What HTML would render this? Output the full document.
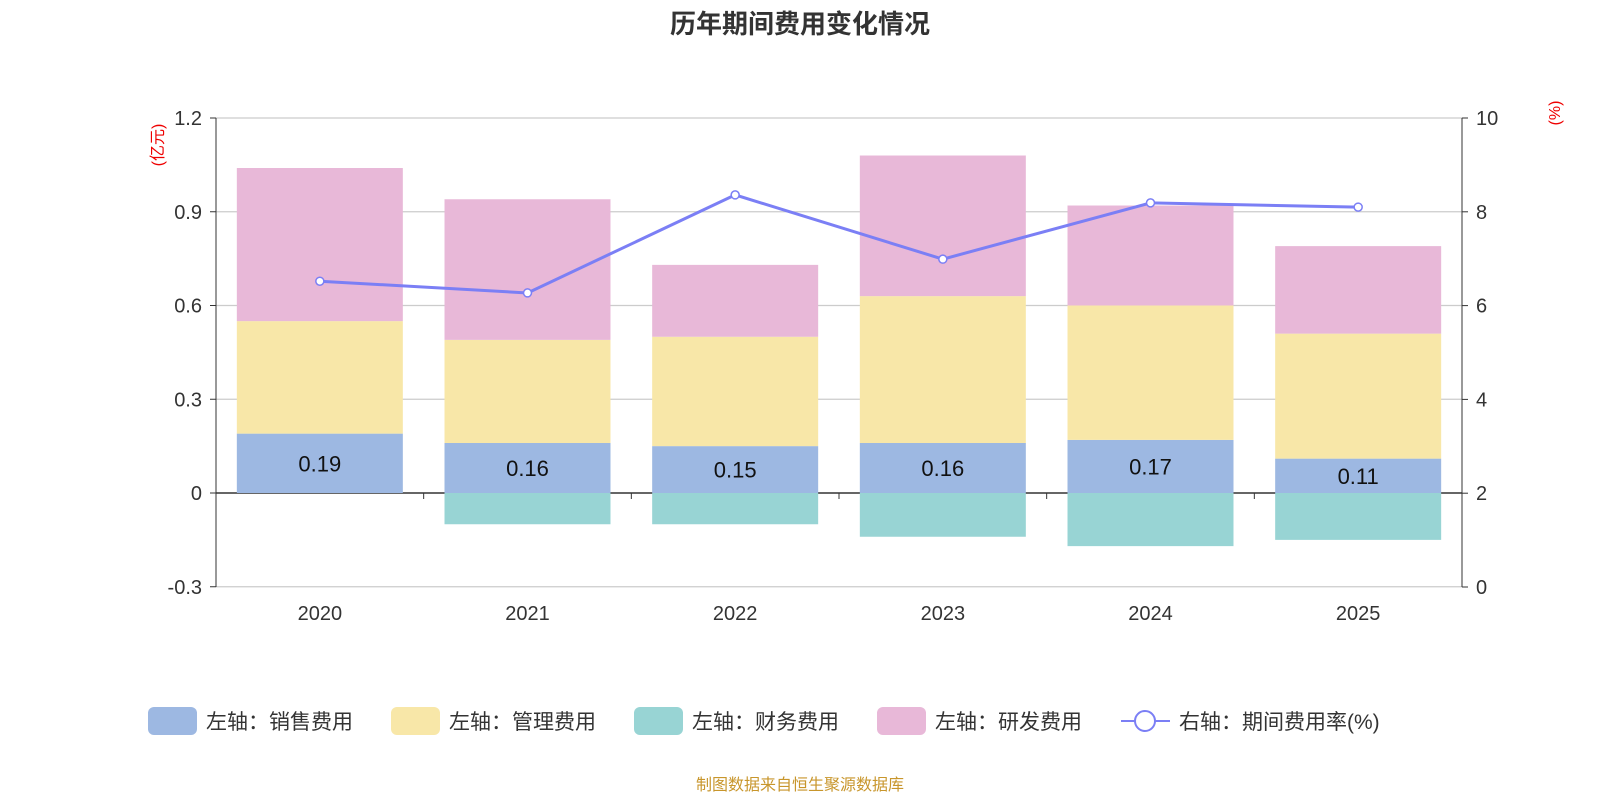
<!DOCTYPE html>
<html><head><meta charset="utf-8">
<style>
body{margin:0;background:#fff;font-family:"Liberation Sans","Noto Sans CJK SC",sans-serif;}
svg text{font-family:"Liberation Sans","Noto Sans CJK SC",sans-serif;}
</style></head>
<body>
<svg id="chart" width="1600" height="800" xmlns="http://www.w3.org/2000/svg">
<text x="800" y="33" text-anchor="middle" font-size="26" font-weight="bold" fill="#333">历年期间费用变化情况</text>
<text x="163" y="145" font-size="16" fill="#e00" transform="rotate(-90 163 145)" text-anchor="middle">(亿元)</text>
<text x="1560" y="113" font-size="16" fill="#e00" transform="rotate(-90 1560 113)" text-anchor="middle">(%)</text>
<g id="grid"></g><g id="bars"></g><g id="axes"></g><g id="line"></g>
<g id="legend"></g>
<text x="800" y="790" text-anchor="middle" font-size="16" fill="#c8962c">制图数据来自恒生聚源数据库</text>
</svg>
<script>
const categories=["2020","2021","2022","2023","2024","2025"];
const sales=[0.19,0.16,0.15,0.16,0.17,0.11];
const mgmt=[0.36,0.33,0.35,0.47,0.43,0.40];
const finance=[0,-0.10,-0.10,-0.14,-0.17,-0.15];
const research=[0.49,0.45,0.23,0.45,0.32,0.28];
const rate=[6.52,6.27,8.36,6.99,8.19,8.10];
const leftTicks=[-0.3,0,0.3,0.6,0.9,1.2];
const leftTickLabels=["-0.3","0","0.3","0.6","0.9","1.2"];
const rightTicks=[0,2,4,6,8,10];

const NS="http://www.w3.org/2000/svg";
const L=216,R=1462,T=118,B=587;
const yL=v=>493-(v)*312.5;
const yR=v=>B-v*(B-T)/10;
const band=(R-L)/categories.length;
const xC=i=>L+band*(i+0.5);
const bw=166;
function mk(tag,at,parent){const e=document.createElementNS(NS,tag);for(const k in at)e.setAttribute(k,at[k]);document.getElementById(parent).appendChild(e);return e;}
leftTicks.forEach((t,i)=>{
  const g=mk('line',{x1:L,x2:R,y1:yL(t),y2:yL(t),stroke:t===0?'#333':'#ccc','stroke-width':t===0?1.5:1.2},'grid');
  
  
  const tx=mk('text',{x:L-14,y:yL(t)+7,'text-anchor':'end','font-size':20,fill:'#333'},'axes');
  tx.textContent=leftTickLabels[i];
  
  
  mk('line',{x1:L-6,x2:L,y1:yL(t),y2:yL(t),stroke:'#333'},'axes');
});
rightTicks.forEach(t=>{
  const tx=mk('text',{x:R+14,y:yR(t)+7,'font-size':20,fill:'#333'},'axes');
  tx.textContent=t;
  
  
  mk('line',{x1:R,x2:R+6,y1:yR(t),y2:yR(t),stroke:'#333'},'axes');
});
mk('line',{x1:L,x2:L,y1:T,y2:B,stroke:'#333'},'axes');
mk('line',{x1:R,x2:R,y1:T,y2:B,stroke:'#333'},'axes');
const colors={sales:'#9db8e2',mgmt:'#f8e7a8',finance:'#98d4d4',research:'#e8b8d8'};
categories.forEach((c,i)=>{
  const x=xC(i)-bw/2;
  const segs=[['sales',0,sales[i]],['mgmt',sales[i],sales[i]+mgmt[i]],['research',sales[i]+mgmt[i],sales[i]+mgmt[i]+research[i]],['finance',finance[i],0]];
  segs.forEach(s=>{
    const r=mk('rect',{x:x,y:yL(s[2]),width:bw,height:Math.max(0,yL(s[1])-yL(s[2])),fill:colors[s[0]]},'bars');
    
    
  });
  const lb=mk('text',{x:xC(i),y:(yL(0)+yL(sales[i]))/2+8,'text-anchor':'middle','font-size':22,fill:'#111'},'bars');
  lb.textContent=sales[i].toFixed(2);
  
  
  const xl=mk('text',{x:xC(i),y:B+33,'text-anchor':'middle','font-size':20,fill:'#333'},'axes');
  xl.textContent=c;
  
  
  mk('line',{x1:L+band*i,x2:L+band*i,y1:493,y2:499,stroke:'#333'},'axes');
});
const pl=mk('polyline',{points:rate.map((v,i)=>xC(i)+','+yR(v)).join(' '),fill:'none',stroke:'#7b7ff5','stroke-width':3},'line');


rate.forEach((v,i)=>{
  const p=mk('circle',{cx:xC(i),cy:yR(v),r:4,fill:'#fff',stroke:'#7b7ff5','stroke-width':1.5},'line');
  
  
});
const leg=[['左轴：销售费用',colors.sales,148],['左轴：管理费用',colors.mgmt,391],['左轴：财务费用',colors.finance,634],['左轴：研发费用',colors.research,877]];
leg.forEach(l=>{
  const r=mk('rect',{x:l[2],y:707,width:49,height:28,rx:6,fill:l[1]},'legend');
  
  
  const t=mk('text',{x:l[2]+58,y:729,'font-size':21,fill:'#333'},'legend');
  t.textContent=l[0];
  
  
});
mk('line',{x1:1121,x2:1170,y1:721,y2:721,stroke:'#7b7ff5','stroke-width':2},'legend');
mk('circle',{cx:1145,cy:721,r:10,fill:'#fff',stroke:'#7b7ff5','stroke-width':2},'legend');
const lt=mk('text',{x:1179,y:729,'font-size':21,fill:'#333'},'legend');
lt.textContent='右轴：期间费用率(%)';


</script>
</body></html>
